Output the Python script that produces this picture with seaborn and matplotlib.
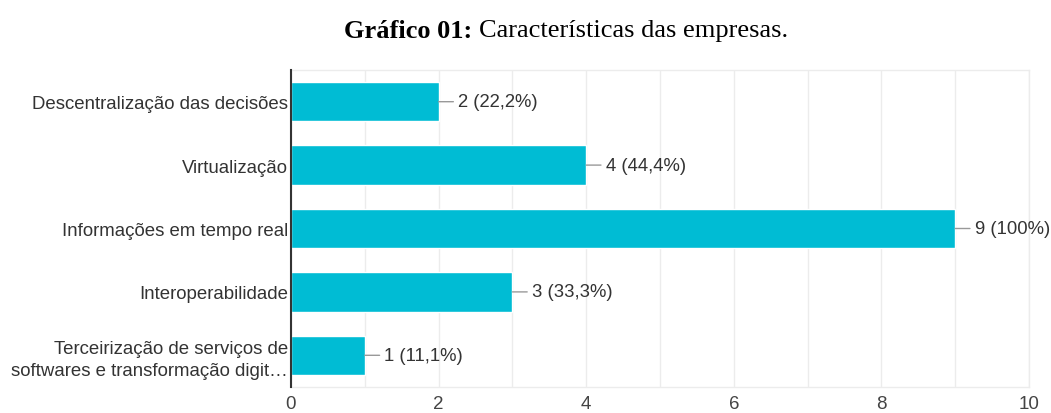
import matplotlib
matplotlib.use("Agg")
import matplotlib.pyplot as plt
import seaborn as sns
import pandas as pd

categorias = [
    "Descentralização das decisões",
    "Virtualização",
    "Informações em tempo real",
    "Interoperabilidade",
    "Terceirização de serviços de\nsoftwares e transformação digit…",
]
respostas = [2, 4, 9, 3, 1]
percentuais = ["22,2%", "44,4%", "100%", "33,3%", "11,1%"]
xticks = [0, 2, 4, 6, 8, 10]

sns.set_theme(style="white")
plt.rcParams["font.family"] = ["Liberation Sans", "DejaVu Sans"]

df = pd.DataFrame({"categoria": categorias, "respostas": respostas})

fig = plt.figure(figsize=(10.51, 4.14), dpi=100)
ax = fig.add_axes([291 / 1051, 1 - 388 / 414, (1029 - 291) / 1051, (388 - 71) / 414])

sns.barplot(data=df, x="respostas", y="categoria", orient="h",
            color="#00BCD4", saturation=1, width=0.62, ax=ax, zorder=3)

ax.set_xlim(0, 10)
ax.set_ylim(4.5, -0.5)
ax.set_xticks(xticks)
ax.set_xticks(range(0, 11), minor=True)
ax.grid(True, axis="x", which="both", color="#ececec", lw=1, zorder=0)
ax.set_xlabel("")
ax.set_ylabel("")
ax.tick_params(axis="x", which="both", length=0, pad=6, labelsize=13.5, labelcolor="#444444")
ax.tick_params(axis="y", length=0, pad=2, labelsize=13.4, labelcolor="#333333")
for lbl in ax.get_yticklabels():
    lbl.set_linespacing(1.4)

for s in ["top", "right", "bottom"]:
    ax.spines[s].set_color("#ececec")
    ax.spines[s].set_linewidth(1)
ax.spines["left"].set_color("#333333")
ax.spines["left"].set_linewidth(1.5)
ax.spines["left"].set_zorder(4)

for i, (v, p) in enumerate(zip(respostas, percentuais)):
    ax.annotate(f"{v} ({p})", xy=(v, i), xytext=(14, 0), textcoords="offset points",
                ha="left", va="center", fontsize=13.3, color="#333333",
                arrowprops=dict(arrowstyle="-", color="#999999", lw=1,
                                shrinkA=1, shrinkB=0))

title_y = 1 - 31 / 414
t1 = fig.text(344 / 1051, title_y, "Gráfico 01: ", ha="left", va="center",
              fontsize=19, fontweight="bold", family="Liberation Serif", color="black")
fig.canvas.draw()
bb = t1.get_window_extent()
fig.text(bb.x1 / fig.bbox.width, title_y, "Características das empresas.", ha="left", va="center",
         fontsize=19, family="Liberation Serif", color="black")

fig.savefig("out.png", dpi=100)
